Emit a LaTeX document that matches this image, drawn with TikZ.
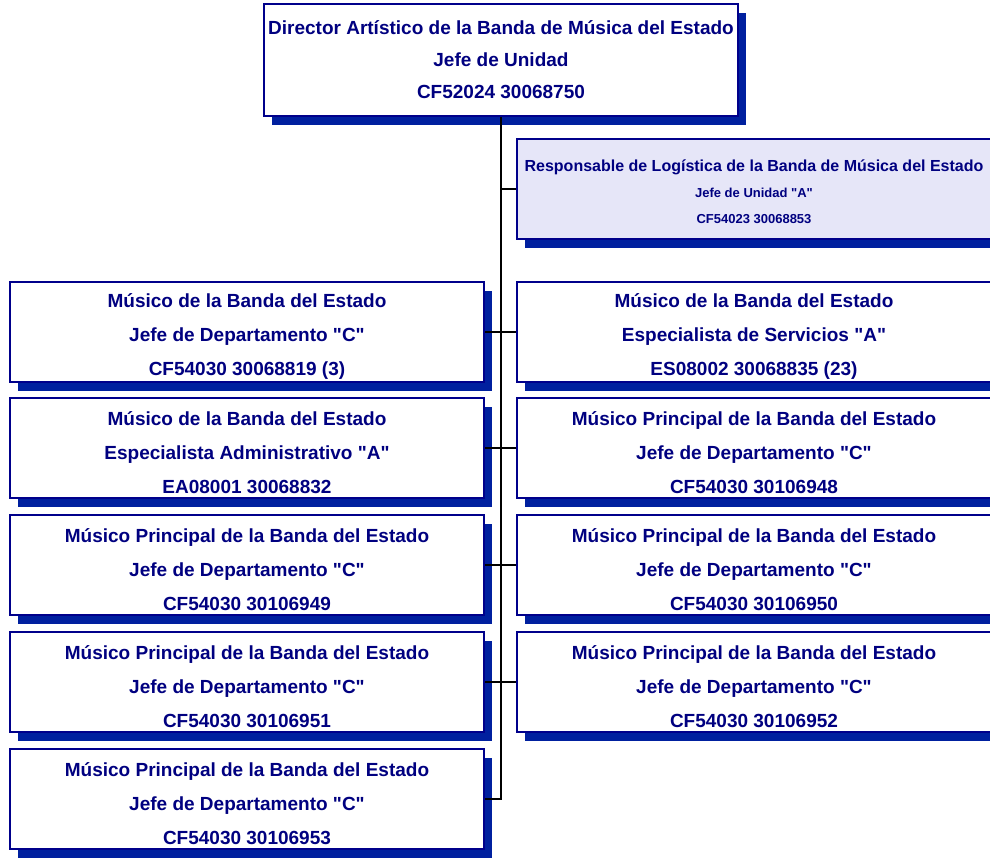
\documentclass[tikz,border=0pt]{standalone}
\usepackage{fontspec}
\setmainfont{Liberation Sans}[Ligatures=TeXOff]
\usepackage{tikz}
\usetikzlibrary{shadows}

\definecolor{navytext}{RGB}{0,0,128}
\definecolor{boxline}{RGB}{0,0,139}
\definecolor{shadowblue}{RGB}{0,32,159}
\definecolor{logfill}{RGB}{230,230,248}

\newbox\cajatexto
\newdimen\altocaja
\newdimen\fondocaja

\tikzset{
	puesto/.style={draw=boxline, line width=2.5pt, fill=white, inner sep=0pt,
		minimum width=474pt, minimum height=100pt, align=center, text=navytext,
		font=\bfseries\fontsize{19}{34}\selectfont,
		drop shadow={shadow xshift=8pt, shadow yshift=-9pt, fill=shadowblue, opacity=1}},
	% text a bit lower than the middle
	bajar/.style={execute at begin node={\setbox\cajatexto=\hbox\bgroup},
		execute at end node={\egroup\altocaja=\ht\cajatexto \fondocaja=\dp\cajatexto
			\setbox\cajatexto=\hbox{\lower#1\box\cajatexto}%
			\ht\cajatexto=\altocaja \dp\cajatexto=\fondocaja \box\cajatexto}},
	linea/.style={draw=black, line width=1.2pt}
}

\begin{document}
\begin{tikzpicture}[x=1pt,y=-1pt]
	
	%the page
	\useasboundingbox (0,0) rectangle (990,859);
	\clip (0,0) rectangle (990,859);
	
	\def\lx{247};
	\def\rx{754};
	
	% the director
	\node[puesto, minimum height=112pt, font=\bfseries\fontsize{19}{32}\selectfont] (dir) at (501,60)
		{Director Artístico de la Banda de Música del Estado\\Jefe de Unidad\\CF52024 30068750};
	
	% the logistics
	\node[puesto, bajar=3pt, fill=logfill, font=\bfseries\fontsize{13}{26}\selectfont] (log) at (\rx,189)
		{{\fontsize{16}{28}\selectfont Responsable de Logística de la Banda de Música del Estado}\\Jefe de Unidad "A"\\CF54023 30068853};
	
	% left column
	\node[puesto, bajar=4.5pt] (l1) at (\lx,332) {Músico de la Banda del Estado\\Jefe de Departamento "C"\\CF54030 30068819 (3)};
	\node[puesto, bajar=4.5pt] (l2) at (\lx,448) {Músico de la Banda del Estado\\Especialista Administrativo "A"\\EA08001 30068832};
	\node[puesto, bajar=4.5pt] (l3) at (\lx,565) {Músico Principal de la Banda del Estado\\Jefe de Departamento "C"\\CF54030 30106949};
	\node[puesto, bajar=4.5pt] (l4) at (\lx,682) {Músico Principal de la Banda del Estado\\Jefe de Departamento "C"\\CF54030 30106951};
	\node[puesto, bajar=4.5pt] (l5) at (\lx,799) {Músico Principal de la Banda del Estado\\Jefe de Departamento "C"\\CF54030 30106953};
	
	% right column
	\node[puesto, bajar=4.5pt] (r1) at (\rx,332) {Músico de la Banda del Estado\\Especialista de Servicios "A"\\ES08002 30068835 (23)};
	\node[puesto, bajar=4.5pt] (r2) at (\rx,448) {Músico Principal de la Banda del Estado\\Jefe de Departamento "C"\\CF54030 30106948};
	\node[puesto, bajar=4.5pt] (r3) at (\rx,565) {Músico Principal de la Banda del Estado\\Jefe de Departamento "C"\\CF54030 30106950};
	\node[puesto, bajar=4.5pt] (r4) at (\rx,682) {Músico Principal de la Banda del Estado\\Jefe de Departamento "C"\\CF54030 30106952};
	
	% the lines
	\draw[linea] (dir.south) -- (dir.south |- l5.east) -- (l5.east);
	\draw[linea] (dir.south |- log.west) -- (log.west);
	\foreach \i in {1,...,4}
		\draw[linea] (l\i.east) -- (r\i.west);
	
\end{tikzpicture}
\end{document}
